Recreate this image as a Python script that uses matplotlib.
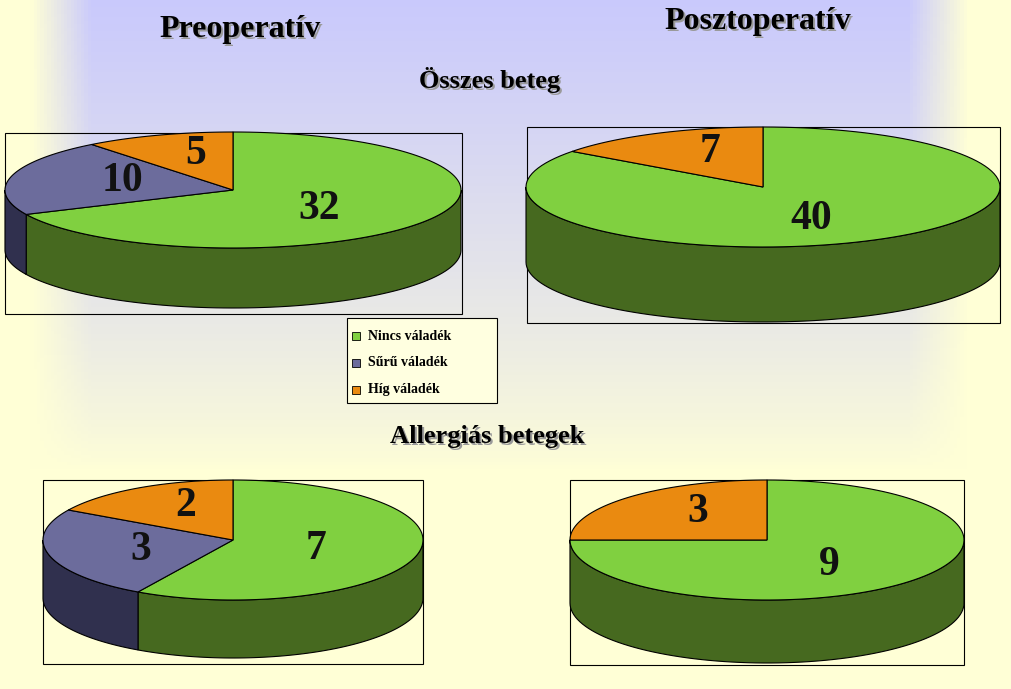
import numpy as np
import matplotlib
matplotlib.use("Agg")
import matplotlib.pyplot as plt
from matplotlib.patches import Polygon, Rectangle

# data
categories = ["Nincs váladék", "Sűrű váladék", "Híg váladék"]
pre_all = [32, 10, 5]
post_all = [40, 0, 7]
pre_allergic = [7, 3, 2]
post_allergic = [9, 0, 3]

top_colors = ["#80d040", "#6c6c9c", "#ea8a10"]
side_colors = ["#46691f", "#30304e", "#8a5008"]
serif = ["Liberation Serif", "DejaVu Serif"]

W, H = 1011, 689
fig = plt.figure(figsize=(W / 100, H / 100), dpi=100)
ax = fig.add_axes([0, 0, 1, 1])
ax.set_xlim(0, W)
ax.set_ylim(H, 0)
ax.axis("off")

# background gradient: lavender centre top, pale yellow edges
xx = np.linspace(0, W, 300)
yy = np.linspace(0, H, 200)
X, Y = np.meshgrid(xx, yy)
wx = np.clip((470 - np.abs(X - 500)) / 60, 0, 1)
wy = np.clip(1 - Y / 470, 0, 1) ** 0.8
w = (wx * wy)[..., None]
lav = np.array([0.79, 0.79, 0.99])
yel = np.array([1.0, 1.0, 0.84])
ax.imshow(w * lav + (1 - w) * yel, extent=[0, W, H, 0], aspect="auto", zorder=0)


def pie3d(values, box, cx, cy, rx, ry, depth, fs):
    bx0, by0, bx1, by1 = box
    ax.add_patch(Rectangle((bx0, by0), bx1 - bx0, by1 - by0, fill=False,
                           ec="black", lw=0.8, zorder=1))
    total = sum(values)
    start = 90.0
    wedges = []
    for v, tc, sc in zip(values, top_colors, side_colors):
        if v == 0:
            continue
        span = 360.0 * v / total
        wedges.append((start - span, start, v, tc, sc))
        start -= span
    pt = lambda t, dy=0: (cx + rx * np.cos(np.radians(t)), cy - ry * np.sin(np.radians(t)) + dy)
    # sides (front half: 180..360)
    for a0, a1, v, tc, sc in wedges:
        for off in (-360, 0, 360):
            lo, hi = max(a0 + off, 180), min(a1 + off, 360)
            if hi > lo:
                t = np.linspace(lo, hi, 80)
                top = [pt(a) for a in t]
                bot = [pt(a, depth) for a in t[::-1]]
                ax.add_patch(Polygon(top + bot, closed=True, fc=sc, ec="black",
                                     lw=0.8, zorder=2))
    for a0, a1, v, tc, sc in wedges:
        t = np.linspace(a0, a1, 120)
        poly = [(cx, cy)] + [pt(a) for a in t]
        ax.add_patch(Polygon(poly, closed=True, fc=tc, ec="black", lw=0.8, zorder=3))
        mid = np.radians((a0 + a1) / 2)
        f = 0.5 if len(wedges) > 1 and v != max(values) else 0.45
        lx = cx + f * rx * np.cos(mid)
        ly = cy - (f + 0.15) * ry * np.sin(mid)
        ax.text(lx, ly, str(v), ha="center", va="center", fontsize=fs,
                fontweight="bold", family=serif, color="#111111", zorder=5)


pie3d(pre_all, (5, 133, 462, 314), 233, 190, 228, 58, 60, 30)
pie3d(post_all, (527, 127, 1000, 323), 763, 187, 237, 60, 75, 30)
pie3d(pre_allergic, (43, 480, 423, 664), 233, 540, 190, 60, 58, 30)
pie3d(post_allergic, (570, 480, 964, 665), 767, 540, 197, 60, 63, 30)


def title(x, y, s, fs):
    ax.text(x + 2, y + 2, s, ha="center", va="center", fontsize=fs, fontweight="bold",
            family=serif, color="#9a9a9a", zorder=5)
    ax.text(x, y, s, ha="center", va="center", fontsize=fs, fontweight="bold",
            family=serif, color="black", zorder=6)


title(240, 30, "Preoperatív", 23)
title(758, 21, "Posztoperatív", 23)
title(490, 80, "Összes beteg", 19)
title(487, 437, "Allergiás betegek", 19)

# legend
ax.add_patch(Rectangle((347, 318), 150, 85, fc="#ffffe0", ec="black", lw=0.8, zorder=4))
for i, (c, col) in enumerate(zip(categories, top_colors)):
    yc = 336 + i * 27
    ax.add_patch(Rectangle((352, yc - 4), 8, 8, fc=col, ec="black", lw=0.6, zorder=5))
    ax.text(368, yc, c, ha="left", va="center", fontsize=10, fontweight="bold",
            family=serif, zorder=5)

fig.savefig("out.png", dpi=100)
